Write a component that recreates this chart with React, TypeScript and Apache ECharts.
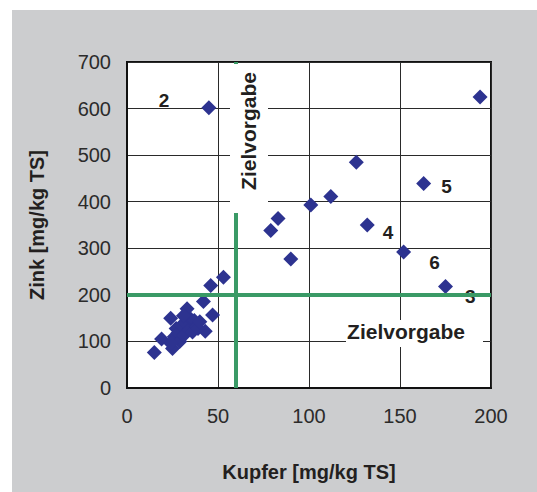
import React, { useEffect, useRef } from "react";
import * as echarts from "echarts";

const kupfer: number[] = [45, 194, 126, 163, 112, 101, 83, 79, 132, 90, 152, 175, 53, 46, 42, 47, 33, 43, 15, 19, 24, 25, 26, 27, 28, 29, 30, 31, 32, 34, 35, 36, 37, 38, 39, 40, 24, 31];
const zink: number[] = [602, 625, 485, 439, 411, 393, 364, 338, 350, 277, 292, 218, 238, 220, 186, 157, 170, 122, 76, 105, 150, 85, 110, 128, 118, 100, 135, 112, 140, 125, 148, 120, 145, 132, 128, 142, 96, 155];
const pointLabels: Record<number, string> = { 0: "2", 3: "5", 8: "4", 10: "6", 11: "3" };
const xTicks = [0, 50, 100, 150, 200];
const yTicks = [0, 100, 200, 300, 400, 500, 600, 700];
const targetKupfer = 60;
const targetZink = 200;
const xTitle = "Kupfer [mg/kg TS]";
const yTitle = "Zink [mg/kg TS]";
const targetText = "Zielvorgabe";

const FONT = "'Liberation Sans', Arial, sans-serif";
const GREEN = "#3a9a66";
const BLUE = "#2d3390";

export default function App() {
  const ref = useRef<HTMLDivElement>(null);
  useEffect(() => {
    if (!ref.current) return;
    const chart = echarts.init(ref.current, undefined, { renderer: "svg" });
    const labelCfg: Record<string, any> = {
      "2": { position: "left", distance: 32, offset: [0, -7] },
      "5": { position: "right", distance: 10, offset: [0, 3] },
      "4": { position: "right", distance: 8, offset: [0, 7] },
      "6": { position: "right", distance: 18, offset: [0, 10] },
      "3": { position: "right", distance: 12, offset: [0, 10] },
    };
    const data = kupfer.map((x, i) => {
      const item: any = { value: [x, zink[i]] };
      const t = pointLabels[i];
      if (t) {
        item.label = {
          show: true,
          formatter: t,
          ...labelCfg[t],
          fontFamily: FONT,
          fontWeight: "bold",
          fontSize: 19,
          color: "#231f20",
        };
      }
      return item;
    });
    chart.setOption({
      animation: false,
      backgroundColor: "transparent",
      grid: {
        left: 127,
        right: 46,
        top: 62,
        bottom: 104,
        show: true,
        backgroundColor: "#ffffff",
        borderColor: "#111",
        borderWidth: 2,
      },
      xAxis: {
        type: "value",
        min: xTicks[0],
        max: xTicks[xTicks.length - 1],
        interval: xTicks[1] - xTicks[0],
        name: xTitle,
        nameLocation: "middle",
        nameGap: 74,
        nameTextStyle: { fontFamily: FONT, fontWeight: "bold", fontSize: 20, color: "#231f20" },
        axisLine: { show: true, lineStyle: { color: "#111", width: 2 } },
        axisTick: { show: false },
        axisLabel: { fontFamily: FONT, fontSize: 20, color: "#2b2b2b", margin: 18 },
        splitLine: { show: true, lineStyle: { color: "#2a2a2a", width: 1 } },
      },
      yAxis: {
        type: "value",
        min: yTicks[0],
        max: yTicks[yTicks.length - 1],
        interval: yTicks[1] - yTicks[0],
        name: yTitle,
        nameLocation: "middle",
        nameGap: 80,
        nameTextStyle: { fontFamily: FONT, fontWeight: "bold", fontSize: 20, color: "#231f20" },
        axisLine: { show: true, lineStyle: { color: "#111", width: 2 } },
        axisTick: { show: false },
        axisLabel: { fontFamily: FONT, fontSize: 20, color: "#2b2b2b", margin: 16 },
        splitLine: { show: true, lineStyle: { color: "#2a2a2a", width: 1 } },
      },
      series: [
        {
          type: "scatter",
          symbol: "diamond",
          symbolSize: 15,
          itemStyle: { color: BLUE, opacity: 1 },
          data,
          markLine: {
            silent: true,
            symbol: "none",
            label: { show: false },
            lineStyle: { color: GREEN, width: 4, type: "solid", opacity: 1 },
            data: [{ xAxis: targetKupfer }, { yAxis: targetZink }],
          },
        },
      ],
      graphic: [
        { type: "rect", z: 100, shape: { x: 230, y: 64, width: 38, height: 149 }, style: { fill: "#ffffff" } },
        {
          type: "text",
          z: 101,
          x: 248,
          y: 131,
          rotation: Math.PI / 2,
          style: {
            text: targetText,
            fontFamily: FONT,
            fontWeight: "bold",
            fontSize: 21,
            fill: "#231f20",
            align: "center",
            verticalAlign: "middle",
          },
        },
        { type: "rect", z: 100, shape: { x: 346, y: 320, width: 137, height: 27 }, style: { fill: "#ffffff" } },
        {
          type: "text",
          z: 101,
          x: 406,
          y: 331,
          style: {
            text: targetText,
            fontFamily: FONT,
            fontWeight: "bold",
            fontSize: 21,
            fill: "#231f20",
            align: "center",
            verticalAlign: "middle",
          },
        },
      ],
    });
    return () => chart.dispose();
  }, []);
  return (
    <div style={{ position: "fixed", left: 0, top: 0, width: 537, height: 492, background: "#ffffff" }}>
      <div style={{ position: "absolute", left: 12, top: 10, right: 0, bottom: 0, background: "#cccdcf" }} />
      <div ref={ref} style={{ position: "absolute", left: 0, top: 0, width: 537, height: 492 }} />
    </div>
  );
}
